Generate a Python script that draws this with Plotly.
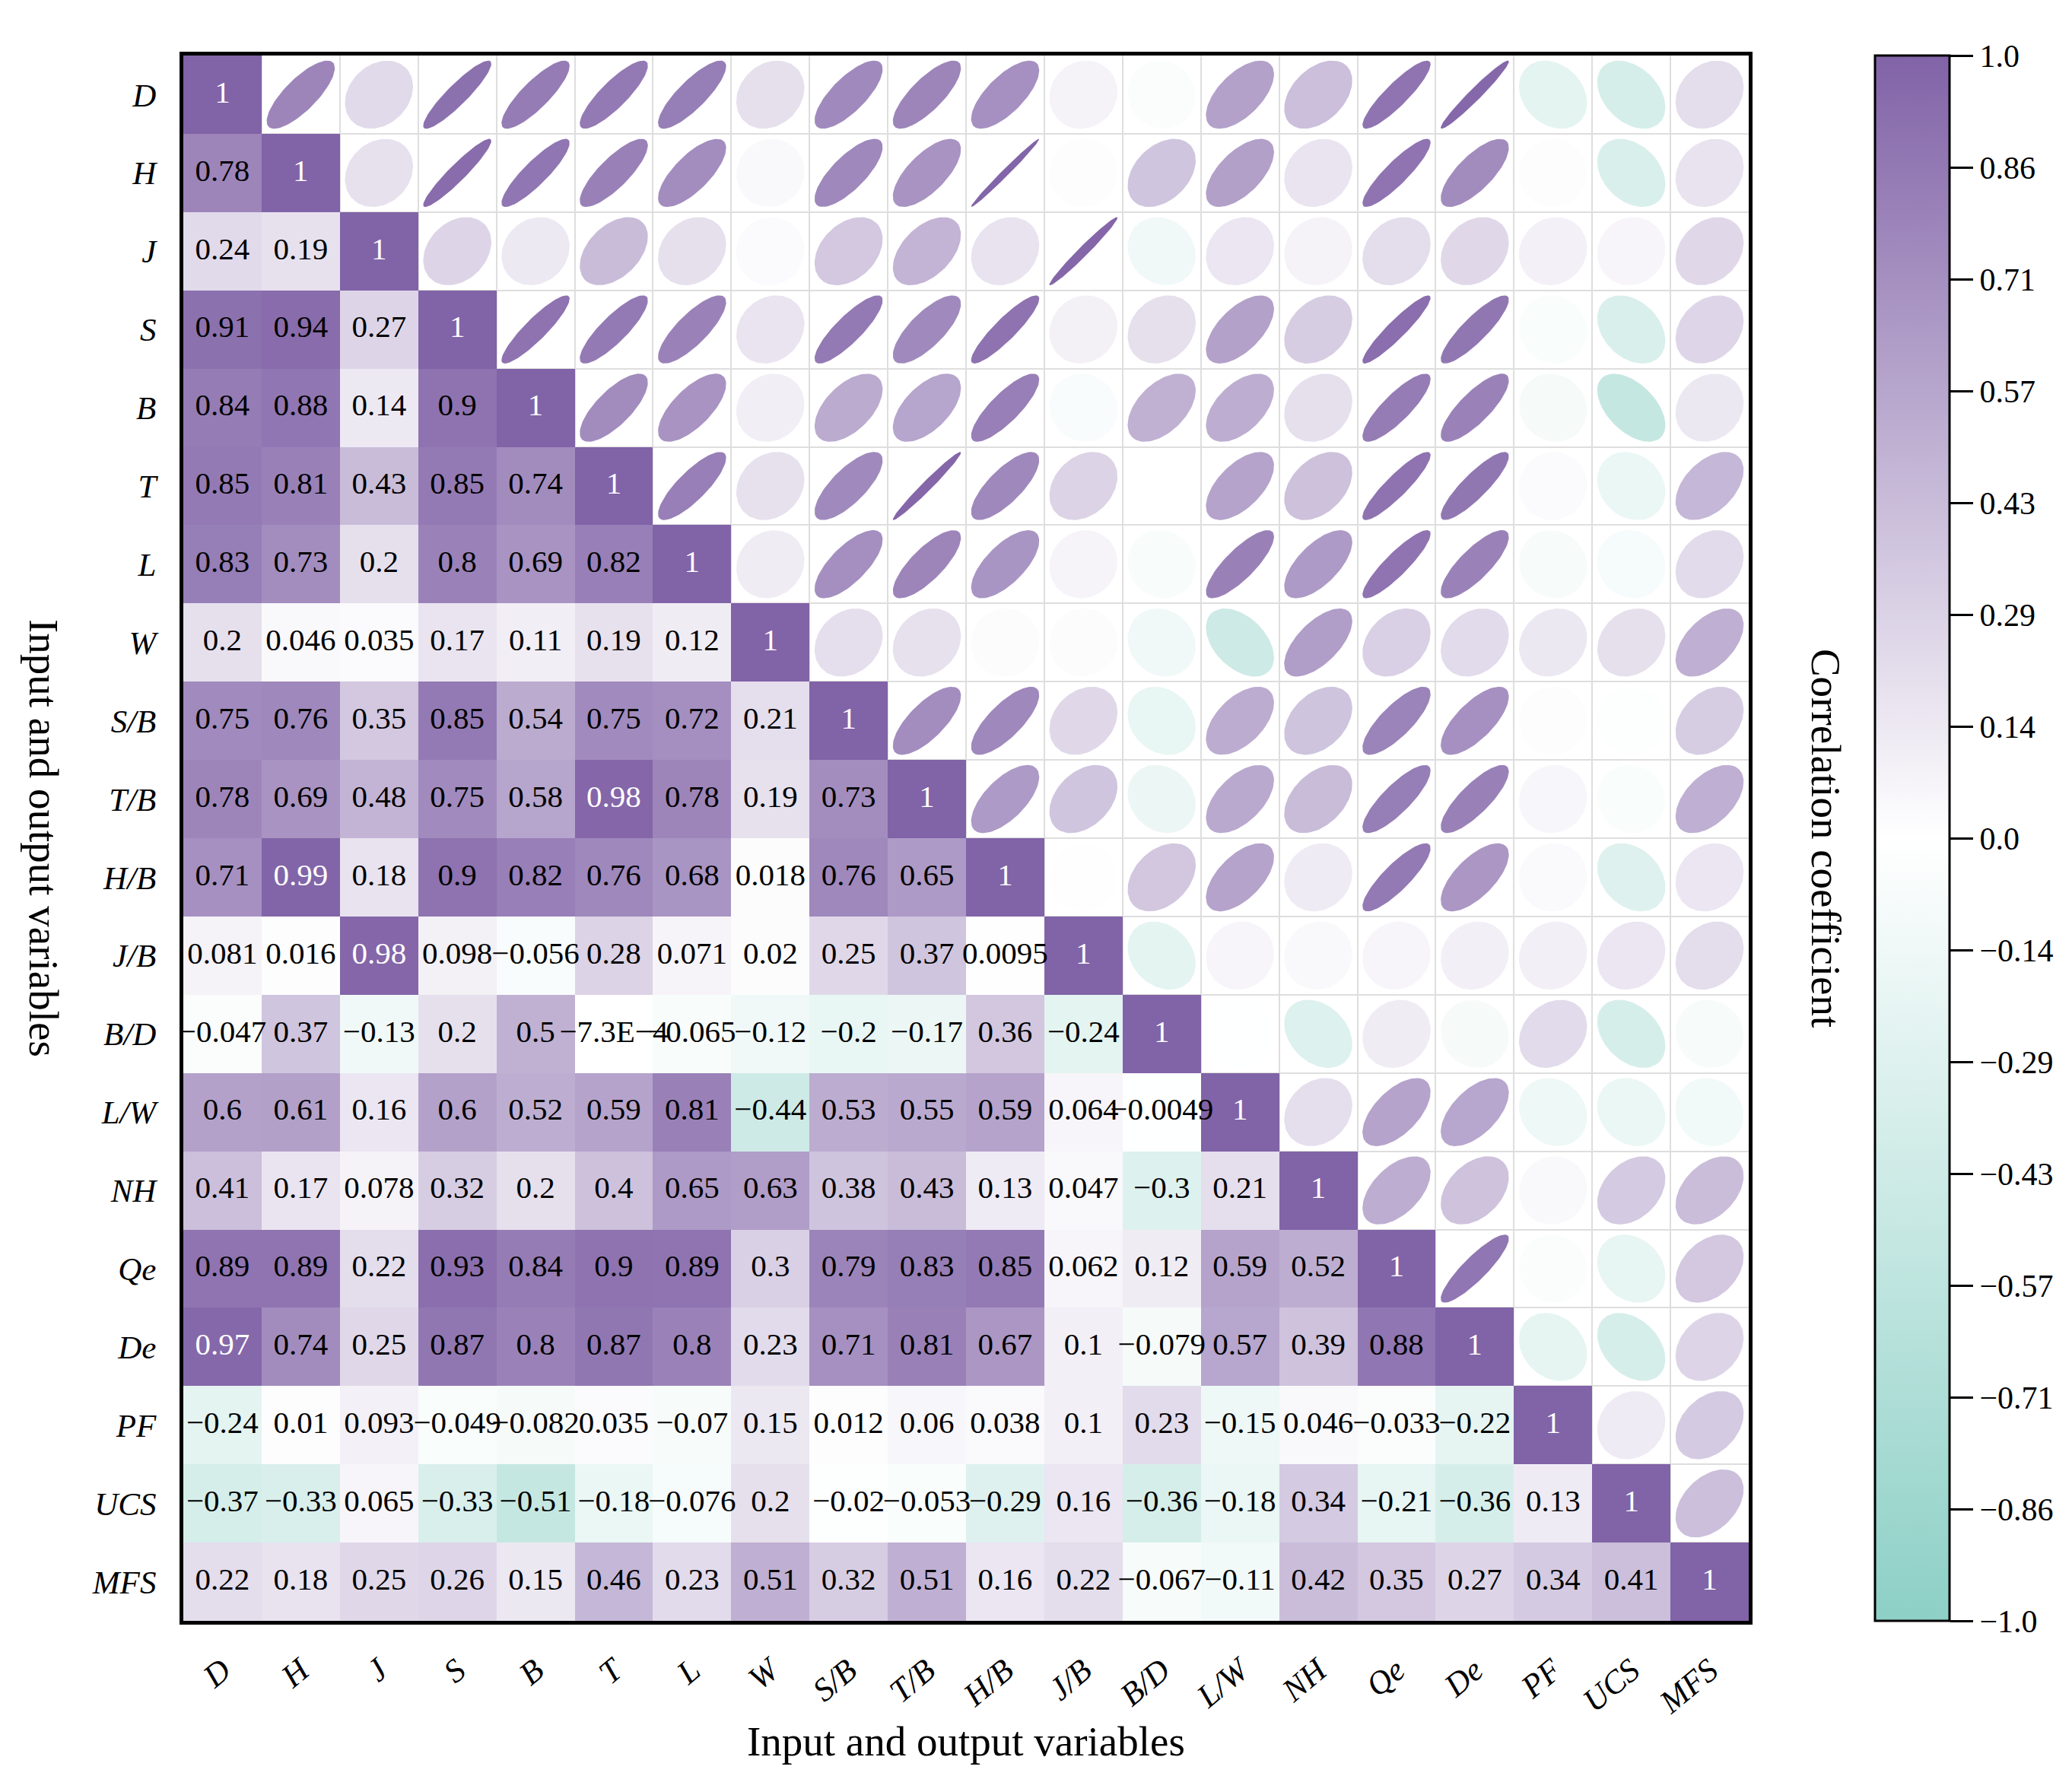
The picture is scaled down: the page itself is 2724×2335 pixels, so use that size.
import numpy as np
import plotly.graph_objects as go
from plotly.colors import sample_colorscale

labels = ["D", "H", "J", "S", "B", "T", "L", "W", "S/B", "T/B", "H/B", "J/B",
          "B/D", "L/W", "NH", "Qe", "De", "PF", "UCS", "MFS"]

# lower triangle of the correlation matrix, row by row (diagonal included)
lower_rows = [
    [1],
    [0.78, 1],
    [0.24, 0.19, 1],
    [0.91, 0.94, 0.27, 1],
    [0.84, 0.88, 0.14, 0.9, 1],
    [0.85, 0.81, 0.43, 0.85, 0.74, 1],
    [0.83, 0.73, 0.2, 0.8, 0.69, 0.82, 1],
    [0.2, 0.046, 0.035, 0.17, 0.11, 0.19, 0.12, 1],
    [0.75, 0.76, 0.35, 0.85, 0.54, 0.75, 0.72, 0.21, 1],
    [0.78, 0.69, 0.48, 0.75, 0.58, 0.98, 0.78, 0.19, 0.73, 1],
    [0.71, 0.99, 0.18, 0.9, 0.82, 0.76, 0.68, 0.018, 0.76, 0.65, 1],
    [0.081, 0.016, 0.98, 0.098, -0.056, 0.28, 0.071, 0.02, 0.25, 0.37, 0.0095, 1],
    [-0.047, 0.37, -0.13, 0.2, 0.5, -7.3e-4, -0.065, -0.12, -0.2, -0.17, 0.36, -0.24, 1],
    [0.6, 0.61, 0.16, 0.6, 0.52, 0.59, 0.81, -0.44, 0.53, 0.55, 0.59, 0.064, -0.0049, 1],
    [0.41, 0.17, 0.078, 0.32, 0.2, 0.4, 0.65, 0.63, 0.38, 0.43, 0.13, 0.047, -0.3, 0.21, 1],
    [0.89, 0.89, 0.22, 0.93, 0.84, 0.9, 0.89, 0.3, 0.79, 0.83, 0.85, 0.062, 0.12, 0.59, 0.52, 1],
    [0.97, 0.74, 0.25, 0.87, 0.8, 0.87, 0.8, 0.23, 0.71, 0.81, 0.67, 0.1, -0.079, 0.57, 0.39,
     0.88, 1],
    [-0.24, 0.01, 0.093, -0.049, -0.082, 0.035, -0.07, 0.15, 0.012, 0.06, 0.038, 0.1, 0.23,
     -0.15, 0.046, -0.033, -0.22, 1],
    [-0.37, -0.33, 0.065, -0.33, -0.51, -0.18, -0.076, 0.2, -0.02, -0.053, -0.29, 0.16, -0.36,
     -0.18, 0.34, -0.21, -0.36, 0.13, 1],
    [0.22, 0.18, 0.25, 0.26, 0.15, 0.46, 0.23, 0.51, 0.32, 0.51, 0.16, 0.22, -0.067, -0.11,
     0.42, 0.35, 0.27, 0.34, 0.41, 1],
]

cbar_ticktext = ["−1.0", "−0.86", "−0.71", "−0.57", "−0.43", "−0.29", "−0.14", "0.0",
                 "0.14", "0.29", "0.43", "0.57", "0.71", "0.86", "1.0"]

colorscale = [[0, "#8dd0c6"], [0.5, "#ffffff"], [1, "#8163a7"]]
FONT = "Liberation Serif"

n = len(labels)
corr = [[lower_rows[max(i, j)][min(i, j)] for j in range(n)] for i in range(n)]


def fmt(v):
    if v == 1:
        return "1"
    if v != 0 and abs(v) < 0.001:
        m, e = f"{v:.1E}".split("E")
        s = f"{m}E{int(e)}"
    else:
        s = f"{v:.4g}"
    return s.replace("-", "−")


fig = go.Figure()

# lower triangle as heatmap, upper triangle left empty
z = [[corr[i][j] if j <= i else None for j in range(n)] for i in range(n)]
fig.add_trace(go.Heatmap(
    z=z, x=list(range(n)), y=list(range(n)),
    zmin=-1, zmax=1, colorscale=colorscale, hoverinfo="skip",
    colorbar=dict(
        x=1.0807, xanchor="left", xpad=0, y=0.5, yanchor="middle", ypad=0,
        len=1, thickness=98, outlinewidth=3, outlinecolor="black",
        tickvals=list(np.linspace(-1, 1, len(cbar_ticktext))), ticktext=cbar_ticktext,
        ticks="outside", ticklen=30, tickwidth=3, tickcolor="black",
        tickfont=dict(family=FONT, size=42, color="black"),
    ),
))

# ellipses in the upper triangle
t = np.linspace(0, 2 * np.pi, 90)
s = 0.435
for i in range(n):
    for j in range(i + 1, n):
        r = corr[i][j]
        d = np.arccos(np.clip(r, -1, 1))
        ex = j + s * np.cos(t + d / 2)
        ey = i - s * np.cos(t - d / 2)
        col = sample_colorscale(colorscale, [(r + 1) / 2])[0]
        fig.add_trace(go.Scatter(
            x=ex, y=ey, mode="lines", fill="toself", fillcolor=col,
            line=dict(width=0, color=col), hoverinfo="skip", showlegend=False,
        ))

# numbers in the lower triangle
tx, ty, tt, tc = [], [], [], []
for i in range(n):
    for j in range(i + 1):
        v = corr[i][j]
        tx.append(j)
        ty.append(i)
        tt.append(fmt(v))
        tc.append("white" if abs(v) >= 0.95 else "black")
fig.add_trace(go.Scatter(
    x=tx, y=ty, text=tt, mode="text", hoverinfo="skip", showlegend=False,
    textfont=dict(family=FONT, size=41, color=tc),
))

axis_common = dict(
    tickmode="array", tickvals=list(range(n)), ticktext=labels,
    showgrid=False, zeroline=False, ticks="",
    showline=True, mirror=True, linecolor="black", linewidth=5,
    tickfont=dict(family=FONT, size=43, color="black", style="italic"),
    minor=dict(tickmode="array", tickvals=[k + 0.5 for k in range(n - 1)],
               showgrid=True, gridcolor="#dedede", gridwidth=1.5, ticks=""),
)

fig.update_layout(
    width=2724, height=2335,
    margin=dict(l=233, r=433, t=65, b=212),
    paper_bgcolor="white", plot_bgcolor="white",
    showlegend=False,
    xaxis=dict(axis_common, range=[-0.5, n - 0.5], tickangle=-40, ticklabelstandoff=18),
    yaxis=dict(axis_common, range=[n - 0.5, -0.5], ticklabelstandoff=22),
    annotations=[
        dict(text="Input and output variables", xref="paper", yref="paper",
             x=0.5, y=-0.0768, xanchor="center", yanchor="middle", showarrow=False,
             font=dict(family=FONT, size=55, color="black")),
        dict(text="Input and output variables", xref="paper", yref="paper",
             x=-0.0889, y=0.5, xanchor="center", yanchor="middle", showarrow=False,
             textangle=90, font=dict(family=FONT, size=55, color="black")),
        dict(text="Correlation coefficient", xref="paper", yref="paper",
             x=1.0496, y=0.5, xanchor="center", yanchor="middle", showarrow=False,
             textangle=90, font=dict(family=FONT, size=55, color="black")),
    ],
)

fig.write_html("out.html")
